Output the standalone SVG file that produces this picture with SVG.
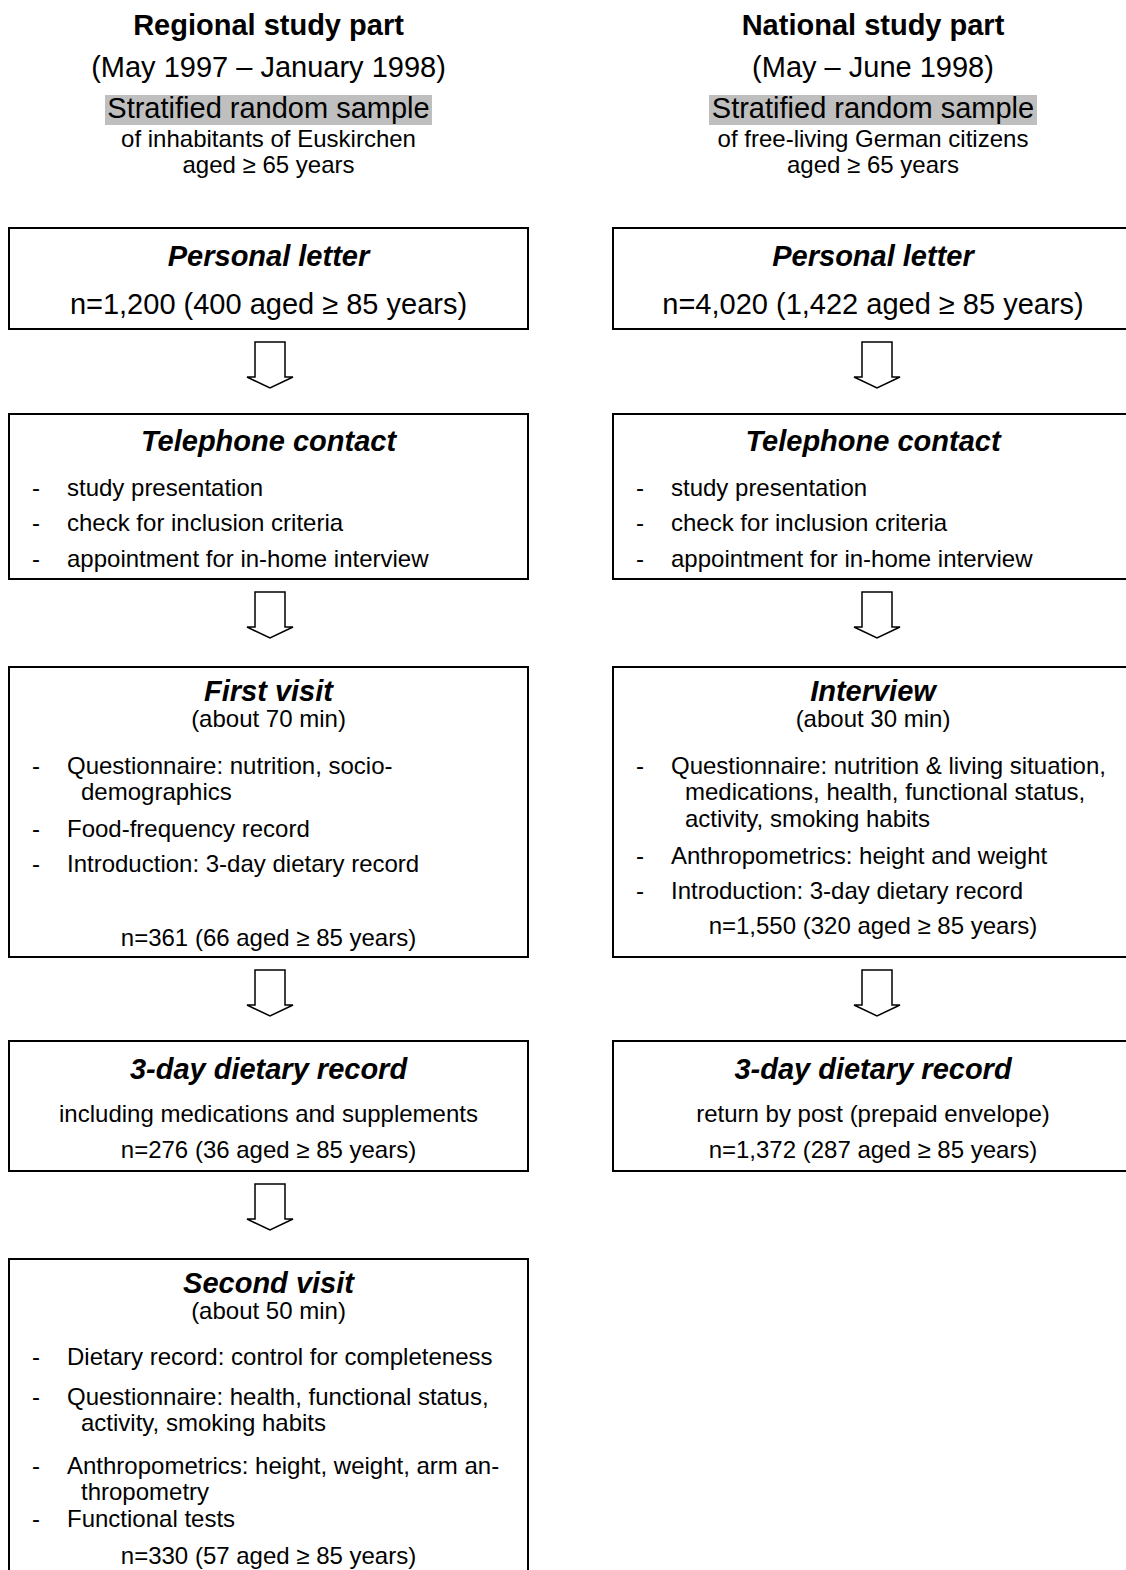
<svg xmlns="http://www.w3.org/2000/svg" width="1126" height="1570" viewBox="0 0 1126 1570">
<defs>
<style>
text{font-family:"Liberation Sans",Arial,sans-serif;fill:#000}
.h{font-size:29px;font-weight:bold;text-anchor:middle}
.big{font-size:29px;text-anchor:middle}
.mid{font-size:24px;text-anchor:middle}
.sm{font-size:24px;text-anchor:middle}
.t{font-size:29px;font-weight:bold;font-style:italic;text-anchor:middle}
.b{font-size:24px}
.box{fill:#fff;stroke:#000;stroke-width:2}
.arr{fill:#fff;stroke:#000;stroke-width:1.5;stroke-linejoin:miter}
.hl{fill:#bfbfbf}
</style>
<path id="ar" d="M-15,0 H15 V35 H23 L0,46 L-23,35 H-15 Z"/>
</defs>
<rect width="1126" height="1570" fill="#fff"/>

<g id="header-left">
<text class="h" x="268.5" y="35">Regional study part</text>
<text class="big" x="268.5" y="77">(May 1997 – January 1998)</text>
<rect class="hl" x="105" y="95" width="327" height="30"/>
<text class="big" x="268.5" y="118">Stratified random sample</text>
<text class="mid" x="268.5" y="147">of inhabitants of Euskirchen</text>
<text class="mid" x="268.5" y="173">aged ≥ 65 years</text>
</g>

<g id="header-right">
<text class="h" x="873" y="35">National study part</text>
<text class="big" x="873" y="77">(May – June 1998)</text>
<rect class="hl" x="709" y="95" width="328" height="30"/>
<text class="big" x="873" y="118">Stratified random sample</text>
<text class="mid" x="873" y="147">of free-living German citizens</text>
<text class="mid" x="873" y="173">aged ≥ 65 years</text>
</g>

<g id="connectors">
<use href="#ar" class="arr" x="270" y="342"/>
<use href="#ar" class="arr" x="270" y="592"/>
<use href="#ar" class="arr" x="270" y="970"/>
<use href="#ar" class="arr" x="270" y="1184"/>
<use href="#ar" class="arr" x="877" y="342"/>
<use href="#ar" class="arr" x="877" y="592"/>
<use href="#ar" class="arr" x="877" y="970"/>
</g>

<g id="l-letter">
<rect class="box" x="9" y="228" width="519" height="101"/>
<text class="t" x="268.5" y="266">Personal letter</text>
<text class="big" x="268.5" y="314">n=1,200 (400 aged ≥ 85 years)</text>
</g>

<g id="r-letter">
<rect class="box" x="613" y="228" width="521" height="101"/>
<text class="t" x="873" y="266">Personal letter</text>
<text class="big" x="873" y="314">n=4,020 (1,422 aged ≥ 85 years)</text>
</g>

<g id="l-phone">
<rect class="box" x="9" y="414" width="519" height="165"/>
<text class="t" x="268.5" y="451">Telephone contact</text>
<text class="b" x="32" y="496">-</text><text class="b" x="67" y="496">study presentation</text>
<text class="b" x="32" y="531">-</text><text class="b" x="67" y="531">check for inclusion criteria</text>
<text class="b" x="32" y="567">-</text><text class="b" x="67" y="567">appointment for in-home interview</text>
</g>

<g id="r-phone">
<rect class="box" x="613" y="414" width="521" height="165"/>
<text class="t" x="873" y="451">Telephone contact</text>
<text class="b" x="636" y="496">-</text><text class="b" x="671" y="496">study presentation</text>
<text class="b" x="636" y="531">-</text><text class="b" x="671" y="531">check for inclusion criteria</text>
<text class="b" x="636" y="567">-</text><text class="b" x="671" y="567">appointment for in-home interview</text>
</g>

<g id="l-first-visit">
<rect class="box" x="9" y="667" width="519" height="290"/>
<text class="t" x="268.5" y="701">First visit</text>
<text class="sm" x="268.5" y="727">(about 70 min)</text>
<text class="b" x="32" y="774">-</text><text class="b" x="67" y="774">Questionnaire: nutrition, socio-</text>
<text class="b" x="81" y="800">demographics</text>
<text class="b" x="32" y="837">-</text><text class="b" x="67" y="837">Food-frequency record</text>
<text class="b" x="32" y="872">-</text><text class="b" x="67" y="872">Introduction: 3-day dietary record</text>
<text class="mid" x="268.5" y="946">n=361 (66 aged ≥ 85 years)</text>
</g>

<g id="r-interview">
<rect class="box" x="613" y="667" width="521" height="290"/>
<text class="t" x="873" y="701">Interview</text>
<text class="sm" x="873" y="727">(about 30 min)</text>
<text class="b" x="636" y="774">-</text><text class="b" x="671" y="774">Questionnaire: nutrition &amp; living situation,</text>
<text class="b" x="685" y="800">medications, health, functional status,</text>
<text class="b" x="685" y="827">activity, smoking habits</text>
<text class="b" x="636" y="864">-</text><text class="b" x="671" y="864">Anthropometrics: height and weight</text>
<text class="b" x="636" y="899">-</text><text class="b" x="671" y="899">Introduction: 3-day dietary record</text>
<text class="mid" x="873" y="934">n=1,550 (320 aged ≥ 85 years)</text>
</g>

<g id="l-record">
<rect class="box" x="9" y="1041" width="519" height="130"/>
<text class="t" x="268.5" y="1079">3-day dietary record</text>
<text class="mid" x="268.5" y="1122">including medications and supplements</text>
<text class="mid" x="268.5" y="1158">n=276 (36 aged ≥ 85 years)</text>
</g>

<g id="r-record">
<rect class="box" x="613" y="1041" width="521" height="130"/>
<text class="t" x="873" y="1079">3-day dietary record</text>
<text class="mid" x="873" y="1122">return by post (prepaid envelope)</text>
<text class="mid" x="873" y="1158">n=1,372 (287 aged ≥ 85 years)</text>
</g>

<g id="l-second-visit">
<rect class="box" x="9" y="1259" width="519" height="330"/>
<text class="t" x="268.5" y="1293">Second visit</text>
<text class="sm" x="268.5" y="1319">(about 50 min)</text>
<text class="b" x="32" y="1365">-</text><text class="b" x="67" y="1365">Dietary record: control for completeness</text>
<text class="b" x="32" y="1405">-</text><text class="b" x="67" y="1405">Questionnaire: health, functional status,</text>
<text class="b" x="81" y="1431">activity, smoking habits</text>
<text class="b" x="32" y="1474">-</text><text class="b" x="67" y="1474">Anthropometrics: height, weight, arm an-</text>
<text class="b" x="81" y="1500">thropometry</text>
<text class="b" x="32" y="1527">-</text><text class="b" x="67" y="1527">Functional tests</text>
<text class="mid" x="268.5" y="1564">n=330 (57 aged ≥ 85 years)</text>
</g>
</svg>
